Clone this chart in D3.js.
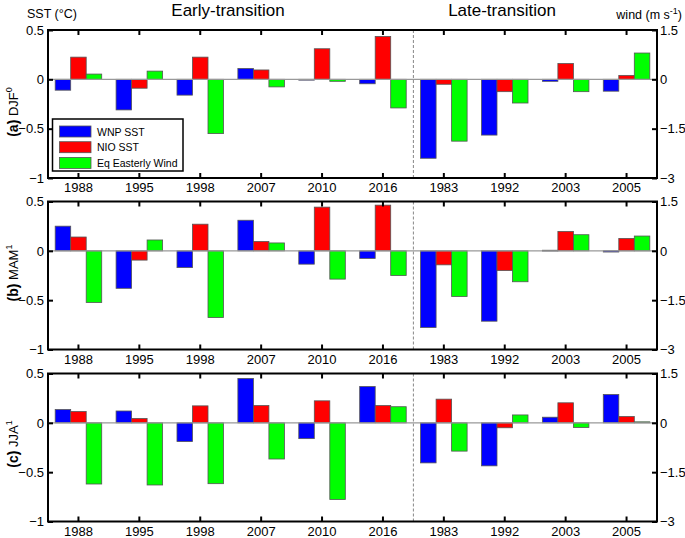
<!DOCTYPE html>
<html>
<head>
<meta charset="utf-8">
<script src="https://cdn.jsdelivr.net/npm/d3@7"></script>
<style>
  html, body { margin: 0; padding: 0; background: #fff; }
  svg { display: block; font-family: Arial, "Liberation Sans", sans-serif; }
</style>
</head>
<body>
<svg id="chart" width="685" height="538"></svg>
<script>
// ---- data ----
const categories = ["1988","1995","1998","2007","2010","2016","1983","1992","2003","2005"];
const seriesNames = ["WNP SST","NIO SST","Eq Easterly Wind"];
const seriesColors = ["#0000ff","#ff0000","#00ff00"];
const leftTicks = [0.5, 0, -0.5, -1];
const rightTicks = [1.5, 0, -1.5, -3];

const wnpDJF  = [-0.11,-0.31,-0.16,0.11,-0.005,-0.045,-0.80,-0.565,-0.02,-0.12];
const nioDJF  = [0.225,-0.09,0.225,0.095,0.31,0.435,-0.05,-0.125,0.16,0.04];
const windDJF = [0.16,0.25,-1.65,-0.23,-0.06,-0.87,-1.88,-0.72,-0.375,0.80];

const wnpMAM  = [0.25,-0.38,-0.17,0.31,-0.135,-0.077,-0.777,-0.713,0.006,-0.012];
const nioMAM  = [0.14,-0.094,0.27,0.095,0.443,0.463,-0.142,-0.2,0.197,0.126];
const windMAM = [-1.57,0.33,-2.03,0.24,-0.86,-0.75,-1.39,-0.94,0.49,0.45];

const wnpJJA  = [0.135,0.12,-0.19,0.45,-0.16,0.368,-0.406,-0.436,0.057,0.287];
const nioJJA  = [0.115,0.044,0.172,0.175,0.223,0.175,0.24,-0.05,0.203,0.064];
const windJJA = [-1.86,-1.89,-1.85,-1.10,-2.33,0.49,-0.86,0.24,-0.14,0.03];

const panels = [
  {tag:"(a)", season:"DJF", sup:"0", wnp:wnpDJF, nio:nioDJF, wind:windDJF},
  {tag:"(b)", season:"MAM", sup:"1", wnp:wnpMAM, nio:nioMAM, wind:windMAM},
  {tag:"(c)", season:"JJA", sup:"1", wnp:wnpJJA, nio:nioJJA, wind:windJJA}
];

// ---- layout ----
const svg = d3.select("#chart");
const L = 48, R = 657;
const tops = [30, 201.5, 373.5];
const labelCenters = [112, 273, 444];
const H = 148;

const x = d3.scaleBand().domain(categories).range([L, R]).padding(0);
const groupW = x.bandwidth() * 0.764;
const x1 = d3.scaleBand().domain(seriesNames).range([-groupW/2, groupW/2]).padding(0);

panels.forEach((p, pi) => {
  const top = tops[pi], bot = top + H;
  const yL = d3.scaleLinear().domain([-1, 0.5]).range([bot, top]);
  const yR = d3.scaleLinear().domain([-3, 1.5]).range([bot, top]);
  const g = svg.append("g");

  // divider
  const xd = x("1983");
  g.append("line").attr("x1", xd).attr("x2", xd).attr("y1", top).attr("y2", bot)
    .attr("stroke", "#888").attr("stroke-width", 1).attr("stroke-dasharray", "3,2");

  // bars
  const rows = categories.map((c, i) => ({c, vals: [
    {s: seriesNames[0], v: p.wnp[i], y: yL},
    {s: seriesNames[1], v: p.nio[i], y: yL},
    {s: seriesNames[2], v: p.wind[i], y: yR}
  ]}));
  rows.forEach(r => {
    r.vals.forEach((d, k) => {
      const y0 = d.y(0), yv = d.y(d.v);
      g.append("rect")
        .attr("x", x(r.c) + x.bandwidth()/2 + x1(d.s))
        .attr("width", x1.bandwidth())
        .attr("y", Math.min(y0, yv))
        .attr("height", Math.max(0.8, Math.abs(yv - y0)))
        .attr("fill", seriesColors[k])
        .attr("stroke", "#555").attr("stroke-width", 0.8);
    });
  });

  // zero line
  g.append("line").attr("x1", L).attr("x2", R).attr("y1", yL(0)).attr("y2", yL(0))
    .attr("stroke", "#999").attr("stroke-width", 1.3);

  // axes
  const fmt = d => d3.format("")(d);
  const axL = g.append("g").attr("transform", `translate(${L},0)`)
    .call(d3.axisLeft(yL).tickValues(leftTicks).tickSize(-5).tickPadding(4).tickFormat(fmt));
  const axR = g.append("g").attr("transform", `translate(${R},0)`)
    .call(d3.axisRight(yR).tickValues(rightTicks).tickSize(-5).tickPadding(3).tickFormat(fmt));
  const axB = g.append("g").attr("transform", `translate(0,${bot})`)
    .call(d3.axisBottom(x).tickSize(-5).tickPadding(5));
  const axT = g.append("g").attr("transform", `translate(0,${top})`)
    .call(d3.axisTop(x).tickSize(-5).tickFormat(""));
  [axL, axR, axB, axT].forEach(a => {
    a.select(".domain").remove();
    a.selectAll(".tick line").attr("stroke", "#000").attr("stroke-width", 2);
    a.selectAll("text").attr("font-size", 13).attr("fill", "#000")
      .attr("font-family", "Arial, 'Liberation Sans', sans-serif");
  });

  // frame
  g.append("rect").attr("x", L).attr("y", top).attr("width", R - L).attr("height", H)
    .attr("fill", "none").attr("stroke", "#000").attr("stroke-width", 2);

  // y label
  const t = g.append("text")
    .attr("transform", `translate(18,${labelCenters[pi]}) rotate(-90)`)
    .attr("text-anchor", "middle").attr("fill", "#000");
  t.append("tspan").attr("font-weight", "bold").attr("font-size", 14).text(p.tag);
  t.append("tspan").attr("font-size", 13).text(" " + p.season);
  t.append("tspan").attr("font-size", 9).attr("dy", -6).text(p.sup);

  // legend in first panel
  if (pi === 0) {
    const lg = g.append("g");
    lg.append("rect").attr("x", 52.5).attr("y", 119).attr("width", 130.5).attr("height", 52)
      .attr("fill", "#fff").attr("stroke", "#000").attr("stroke-width", 1.5);
    seriesNames.forEach((s, k) => {
      const cy = 131.5 + k * 15.7;
      lg.append("rect").attr("x", 59.5).attr("y", cy - 5.5).attr("width", 31.5).attr("height", 11)
        .attr("fill", seriesColors[k]).attr("stroke", "#555").attr("stroke-width", 0.8);
      lg.append("text").attr("x", 97).attr("y", cy + 4).attr("font-size", 10.5).attr("fill", "#000").text(s);
    });
  }
});

// headers
svg.append("text").attr("x", 27).attr("y", 18).attr("font-size", 12.5).text("SST (°C)");
svg.append("text").attr("x", 228).attr("y", 16).attr("font-size", 17).attr("text-anchor", "middle").text("Early-transition");
svg.append("text").attr("x", 502).attr("y", 16).attr("font-size", 17).attr("text-anchor", "middle").text("Late-transition");
const w = svg.append("text").attr("x", 682).attr("y", 19).attr("font-size", 12.5).attr("text-anchor", "end");
w.append("tspan").text("wind (m s");
w.append("tspan").attr("font-size", 9).attr("dy", -5).text("-1");
w.append("tspan").attr("dy", 5).text(")");
</script>
</body>
</html>
